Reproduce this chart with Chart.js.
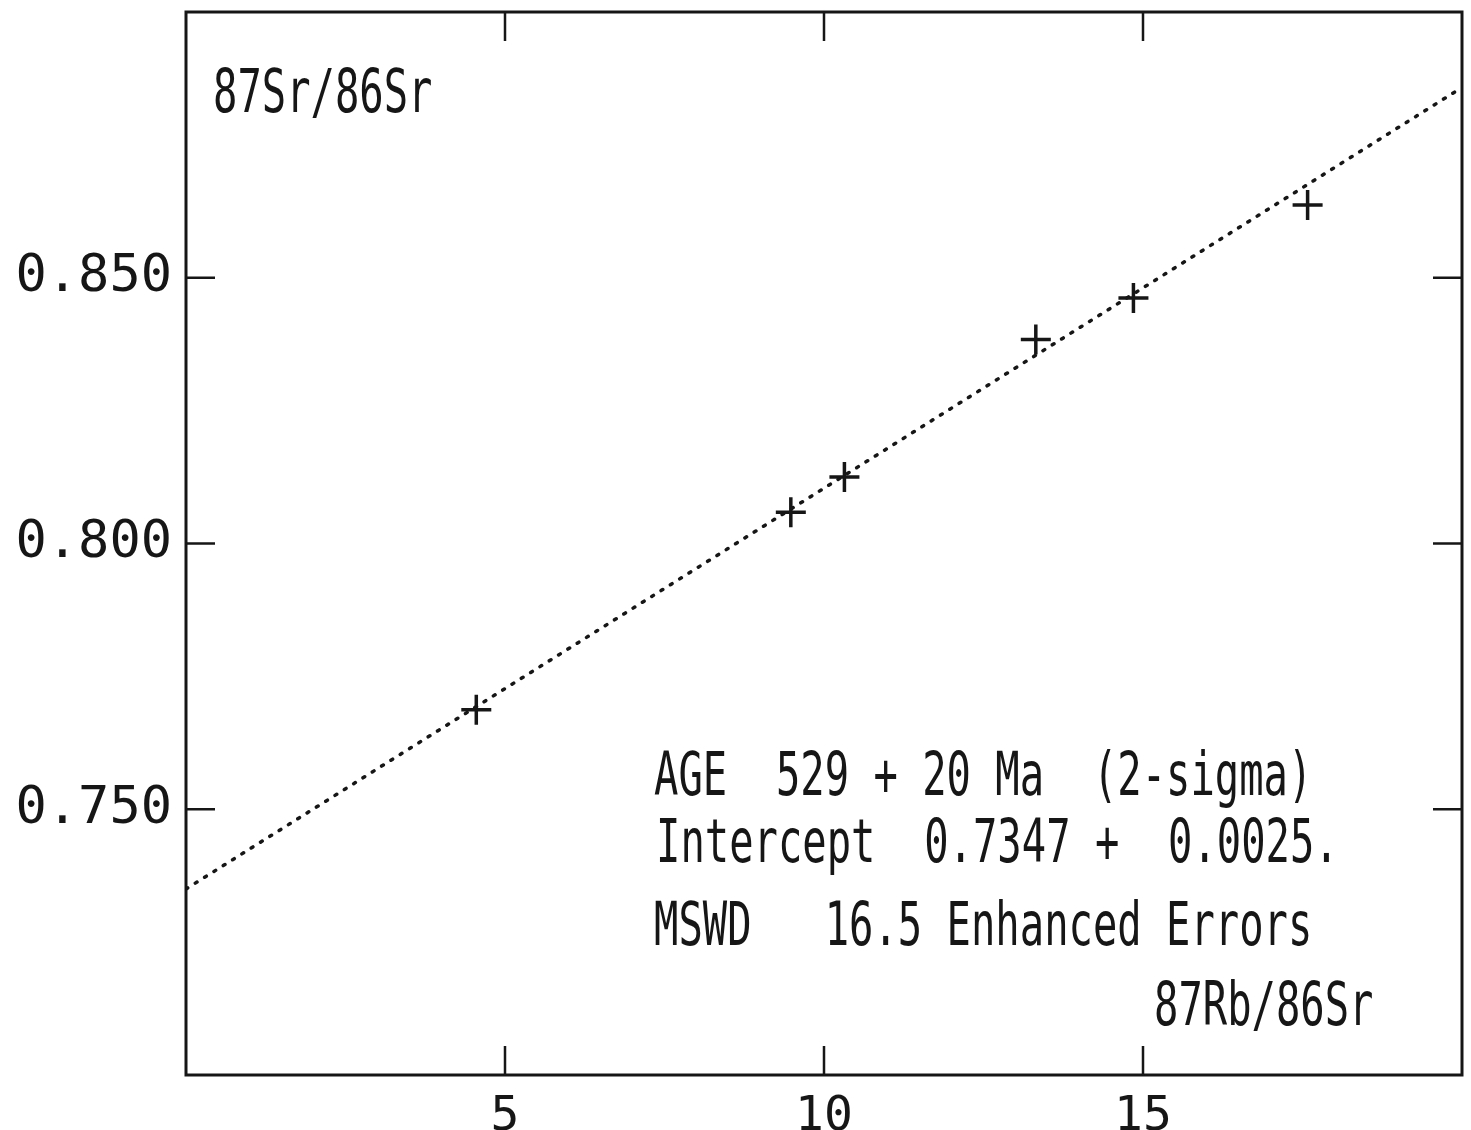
<!DOCTYPE html>
<html>
<head>
<meta charset="utf-8">
<script src="https://cdn.jsdelivr.net/npm/chart.js@4.4.1/dist/chart.umd.min.js"></script>
<style>
  html, body { margin: 0; padding: 0; background: #ffffff; }
  #wrap { width: 1471px; height: 1130px; }
</style>
</head>
<body>
<div id="wrap"><canvas id="c" width="1471" height="1130"></canvas></div>
<script>
// ---- data ----
const rbSr = [4.55, 9.48, 10.32, 13.32, 14.85, 17.58];        // 87Rb/86Sr
const srSr = [0.7687, 0.8059, 0.8125, 0.8384, 0.8462, 0.8637]; // 87Sr/86Sr
const fitX = [0, 20];
const fitY = [0.7350, 0.8858];
const xTicks = [5, 10, 15];
const yTicks = [0.750, 0.800, 0.850];
const xRange = [0, 20];
const yRange = [0.700, 0.900];
const yLabel = '87Sr/86Sr';
const xLabel = '87Rb/86Sr';
const infoLines = [
  'AGE  529 + 20 Ma  (2-sigma)',
  'Intercept  0.7347 +  0.0025.',
  'MSWD   16.5 Enhanced Errors'
];

const INK = '#161616';
const MONO = '"DejaVu Sans Mono", "Liberation Mono", monospace';

function condensedText(ctx, txt, x, y, size, sx) {
  ctx.save();
  ctx.font = size + 'px ' + MONO;
  ctx.fillStyle = INK;
  ctx.textBaseline = 'alphabetic';
  ctx.textAlign = 'left';
  ctx.translate(x, y);
  ctx.scale(sx, 1);
  ctx.fillText(txt, 0, 0);
  ctx.restore();
}

const framePlugin = {
  id: 'frame',
  afterDraw(chart) {
    const ctx = chart.ctx;
    const a = chart.chartArea;
    const xs = chart.scales.x, ys = chart.scales.y;
    ctx.save();
    ctx.strokeStyle = INK;
    ctx.lineWidth = 3;
    ctx.strokeRect(a.left, a.top, a.right - a.left, a.bottom - a.top);
    const tl = 29;
    ctx.lineWidth = 2.5;
    ctx.beginPath();
    xTicks.forEach(v => {
      const px = xs.getPixelForValue(v);
      ctx.moveTo(px, a.bottom); ctx.lineTo(px, a.bottom - tl);
      ctx.moveTo(px, a.top); ctx.lineTo(px, a.top + tl);
    });
    yTicks.forEach(v => {
      const py = ys.getPixelForValue(v);
      ctx.moveTo(a.left, py); ctx.lineTo(a.left + tl, py);
      ctx.moveTo(a.right, py); ctx.lineTo(a.right - tl, py);
    });
    ctx.stroke();
    ctx.restore();

    const size = 60, sx = 0.675;
    const ox = a.left, oy = a.top;
    condensedText(ctx, yLabel, ox + 27, oy + 100, size, sx);
    const lx = ox + 468;
    condensedText(ctx, infoLines[0], lx, oy + 783, size, sx);
    condensedText(ctx, infoLines[1], lx + 2, oy + 850, size, sx);
    condensedText(ctx, infoLines[2], lx, oy + 933, size, sx);
    condensedText(ctx, xLabel, ox + 968, oy + 1013, size, sx);
  }
};

new Chart(document.getElementById('c'), {
  data: {
    datasets: [
      {
        type: 'line',
        data: fitX.map((x, i) => ({ x: x, y: fitY[i] })),
        borderColor: INK,
        borderWidth: 3.5,
        borderDash: [2, 9],
        borderCapStyle: 'round',
        pointRadius: 0,
        fill: false,
        order: 2
      },
      {
        type: 'scatter',
        data: rbSr.map((x, i) => ({ x: x, y: srSr[i] })),
        pointStyle: 'cross',
        pointRadius: 15,
        pointBorderWidth: 3.5,
        borderColor: INK,
        backgroundColor: INK,
        order: 1
      }
    ]
  },
  options: {
    responsive: false,
    animation: false,
    devicePixelRatio: 1,
    layout: { autoPadding: false, padding: { top: 12, right: 9, left: 0, bottom: 0 } },
    plugins: { legend: { display: false }, tooltip: { enabled: false } },
    scales: {
      x: {
        type: 'linear',
        min: xRange[0], max: xRange[1],
        afterBuildTicks: s => { s.ticks = xTicks.map(v => ({ value: v })); },
        afterFit: s => { s.height = 55; s.paddingLeft = 0; s.paddingRight = 0; },
        grid: { display: false, drawTicks: false },
        border: { display: false },
        ticks: {
          color: INK,
          padding: 14,
          maxRotation: 0,
          font: { family: MONO, size: 48 },
          callback: v => String(v)
        }
      },
      y: {
        type: 'linear',
        min: yRange[0], max: yRange[1],
        afterBuildTicks: s => { s.ticks = yTicks.map(v => ({ value: v })); },
        afterFit: s => { s.width = 186; s.paddingTop = 0; s.paddingBottom = 0; },
        grid: { display: false, drawTicks: false },
        border: { display: false },
        ticks: {
          color: INK,
          padding: 14,
          font: { family: MONO, size: 52 },
          callback: v => Number(v).toFixed(3)
        }
      }
    }
  },
  plugins: [framePlugin]
});
</script>
</body>
</html>
